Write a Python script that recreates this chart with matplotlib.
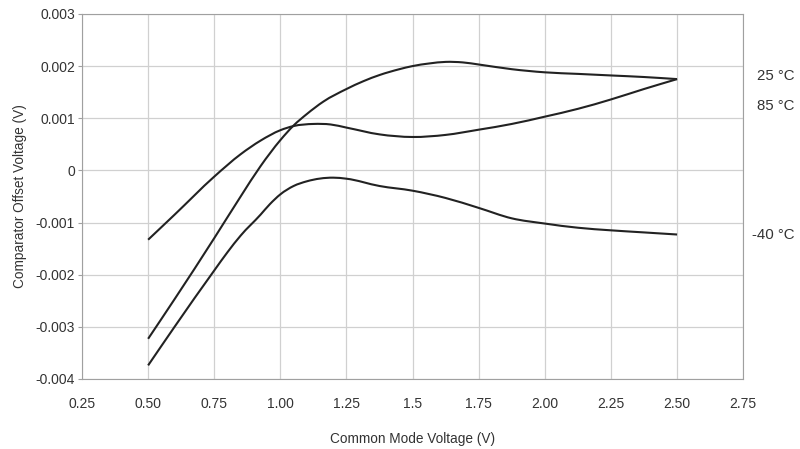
import numpy as np
import matplotlib
matplotlib.use('Agg')
import matplotlib.pyplot as plt
from matplotlib.path import Path
from matplotlib.patches import PathPatch

plt.rcParams['font.family'] = ['Liberation Sans', 'DejaVu Sans']

# common mode voltage (V) and offset (mV)
x_25 = [0.5, 0.6, 0.75, 0.85, 0.925, 1.0, 1.05, 1.1, 1.163, 1.25, 1.314, 1.376, 1.45, 1.5,
        1.563, 1.625, 1.69, 1.75, 1.875, 2.0, 2.125, 2.25, 2.375, 2.5]
off_25 = [-3.23, -2.47, -1.3, -0.5, 0.08, 0.58, 0.86, 1.08, 1.32, 1.56, 1.71, 1.83, 1.94, 2.0,
          2.05, 2.08, 2.07, 2.03, 1.94, 1.88, 1.85, 1.82, 1.79, 1.75]

x_85 = [0.5, 0.6, 0.75, 0.85, 0.925, 1.0, 1.05, 1.125, 1.19, 1.25, 1.375, 1.5, 1.625, 1.75,
        1.875, 2.0, 2.125, 2.25, 2.375, 2.5]
off_85 = [-1.33, -0.85, -0.12, 0.31, 0.57, 0.77, 0.85, 0.89, 0.88, 0.82, 0.69, 0.64, 0.68, 0.78,
          0.89, 1.03, 1.18, 1.36, 1.56, 1.75]

x_m40 = [0.5, 0.6, 0.75, 0.8, 0.85, 0.925, 0.96, 1.0, 1.05, 1.1, 1.2, 1.25, 1.375, 1.5, 1.625,
         1.75, 1.875, 2.0, 2.125, 2.25, 2.375, 2.5]
off_m40 = [-3.74, -3.0, -1.92, -1.57, -1.25, -0.85, -0.65, -0.46, -0.3, -0.21, -0.14, -0.16, -0.3,
           -0.39, -0.53, -0.72, -0.92, -1.02, -1.1, -1.15, -1.19, -1.23]

xticks = [0.25, 0.5, 0.75, 1.0, 1.25, 1.5, 1.75, 2.0, 2.25, 2.5, 2.75]
xlabels = ['0.25', '0.50', '0.75', '1.00', '1.25', '1.5', '1.75', '2.00', '2.25', '2.50', '2.75']
yticks = [0.003, 0.002, 0.001, 0, -0.001, -0.002, -0.003, -0.004]
ylabels = ['0.003', '0.002', '0.001', '0', '-0.001', '-0.002', '-0.003', '-0.004']

temp_labels = ['25 °C', '85 °C', '-40 °C']
label_x = [2.803, 2.803, 2.785]
label_y = [0.00181, 0.00124, -0.00124]


def smooth_path(xs, ys):
    # cubic hermite through the points, as bezier segments
    x = np.asarray(xs, float)
    y = np.asarray(ys, float) / 1000
    m = np.gradient(y, x)
    verts = [(x[0], y[0])]
    codes = [Path.MOVETO]
    for i in range(len(x) - 1):
        h = x[i + 1] - x[i]
        verts += [(x[i] + h / 3, y[i] + m[i] * h / 3),
                  (x[i + 1] - h / 3, y[i + 1] - m[i + 1] * h / 3),
                  (x[i + 1], y[i + 1])]
        codes += [Path.CURVE4] * 3
    return Path(verts, codes)


fig = plt.figure(figsize=(8, 4.49), dpi=100)
ax = fig.add_axes([0.1025, 0.156, 0.8265, 0.813])

for xs, ys in ((x_25, off_25), (x_85, off_85), (x_m40, off_m40)):
    ax.add_patch(PathPatch(smooth_path(xs, ys), facecolor='none', edgecolor='#222222', lw=1.5))

ax.set_xlim(0.25, 2.75)
ax.set_ylim(-0.004, 0.003)
ax.set_xticks(xticks)
ax.set_xticklabels(xlabels)
ax.set_yticks(yticks)
ax.set_yticklabels(ylabels)
ax.grid(color='#d0d0d0', lw=0.9)
ax.set_axisbelow(True)
for s in ax.spines.values():
    s.set_color('#a0a0a0')
ax.tick_params(axis='x', length=0, pad=13, labelsize=10, colors='#333333')
ax.tick_params(axis='y', length=3, pad=2, labelsize=10, colors='#333333', color='#a0a0a0')

ax.set_xlabel('Common Mode Voltage (V)', fontsize=9.8, color='#333333', labelpad=15)
ax.set_ylabel('Comparator Offset Voltage (V)', fontsize=9.8, color='#333333', labelpad=6)

for t, x, y in zip(temp_labels, label_x, label_y):
    ax.text(x, y, t, fontsize=10.8, color='#333333', va='center', ha='left', clip_on=False)

fig.savefig('out.png', dpi=100)
